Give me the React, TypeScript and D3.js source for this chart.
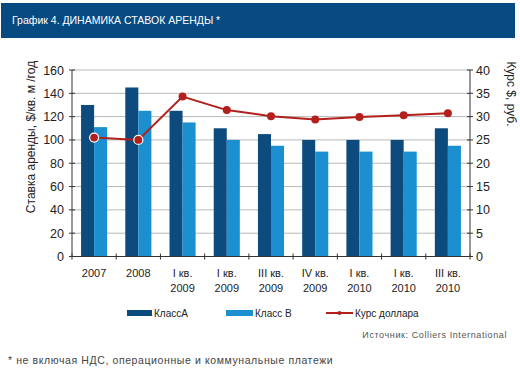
import React from "react";
import * as d3 from "d3";

const categories = [
  ["2007", ""],
  ["2008", ""],
  ["I кв.", "2009"],
  ["I кв.", "2009"],
  ["III кв.", "2009"],
  ["IV кв.", "2009"],
  ["I кв.", "2010"],
  ["I кв.", "2010"],
  ["III кв.", "2010"],
];
const classA = [130, 145, 125, 110, 105, 100, 100, 100, 110];
const classB = [111, 125, 115, 100, 95, 90, 90, 90, 95];
const dollar = [25.5, 25.0, 34.3, 31.4, 30.1, 29.4, 29.9, 30.3, 30.7];
const leftTicks = [0, 20, 40, 60, 80, 100, 120, 140, 160];
const rightTicks = [0, 5, 10, 15, 20, 25, 30, 35, 40];

const COL_A = "#0d4a7e";
const COL_B = "#1b8fcf";
const COL_L = "#b3201c";
const FONT = "Liberation Sans, Arial, sans-serif";

export default function App() {
  const left = 72, right = 470, top = 70, bottom = 256.5;
  const idx = categories.map((_, i) => String(i));
  const x = d3.scaleBand().domain(idx).range([left, right]).paddingInner(0.41).paddingOuter(0.205);
  const x1 = d3.scaleBand().domain(["A", "B"]).range([0, x.bandwidth()]);
  const yL = d3.scaleLinear().domain([0, 160]).range([bottom, top]);
  const yR = d3.scaleLinear().domain([0, 40]).range([bottom, top]);
  const step = (right - left) / categories.length;
  const cx = (i: number) => left + step * (i + 0.5);
  const line = d3.line<number>().x((_, i) => cx(i)).y((d) => yR(d));

  return (
    <svg width={520} height={378} style={{ position: "absolute", left: 0, top: 0, fontFamily: FONT }}>
      <rect x={0} y={0} width={520} height={378} fill="#fff" />
      <rect x={1} y={3} width={514} height={35} fill="#074a82" />
      <text x={12} y={24} fill="#fff" fontSize={10.5}>График 4. ДИНАМИКА СТАВОК АРЕНДЫ *</text>

      {leftTicks.map((t) => (
        <line key={"g" + t} x1={left} x2={right} y1={yL(t)} y2={yL(t)} stroke="#b8b8b8" strokeWidth={1} />
      ))}

      {classA.map((v, i) => (
        <rect key={"a" + i} x={x(String(i))! + x1("A")!} y={yL(v)} width={x1.bandwidth()} height={bottom - yL(v)} fill={COL_A} />
      ))}
      {classB.map((v, i) => (
        <rect key={"b" + i} x={x(String(i))! + x1("B")!} y={yL(v)} width={x1.bandwidth()} height={bottom - yL(v)} fill={COL_B} />
      ))}

      {/* axes */}
      <line x1={left} x2={left} y1={top} y2={bottom} stroke="#333" strokeWidth={1} />
      <line x1={right} x2={right} y1={top} y2={bottom} stroke="#333" strokeWidth={1} />
      <line x1={left} x2={right} y1={bottom} y2={bottom} stroke="#333" strokeWidth={1} />
      {leftTicks.map((t) => (
        <g key={"lt" + t}>
          <line x1={left - 3} x2={left + 3} y1={yL(t)} y2={yL(t)} stroke="#333" />
          <text x={64} y={yL(t) + 4.5} textAnchor="end" fontSize={12.5} fill="#222">{t}</text>
        </g>
      ))}
      {rightTicks.map((t) => (
        <g key={"rt" + t}>
          <line x1={right - 3} x2={right + 3} y1={yR(t)} y2={yR(t)} stroke="#333" />
          <text x={476} y={yR(t) + 4.5} textAnchor="start" fontSize={12.5} fill="#222">{t}</text>
        </g>
      ))}
      {d3.range(categories.length + 1).map((i) => (
        <line key={"xt" + i} x1={left + step * i} x2={left + step * i} y1={bottom - 3} y2={bottom + 3} stroke="#333" />
      ))}
      {categories.map((c, i) => (
        <g key={"xl" + i}>
          <text x={cx(i)} y={277} textAnchor="middle" fontSize={11} fill="#222">{c[0]}</text>
          {c[1] && <text x={cx(i)} y={292} textAnchor="middle" fontSize={11} fill="#222">{c[1]}</text>}
        </g>
      ))}

      <text transform={`translate(35,137) rotate(-90)`} textAnchor="middle" fontSize={12} fill="#222">Ставка аренды, $/кв. м /год</text>
      <text transform={`translate(507,94) rotate(90)`} textAnchor="middle" fontSize={12} fill="#222">Курс $, руб.</text>

      <path d={line(dollar) ?? ""} fill="none" stroke={COL_L} strokeWidth={2} />
      {dollar.map((v, i) => (
        <circle key={"m" + i} cx={cx(i)} cy={yR(v)} r={i < 2 ? 4.5 : 4} fill={COL_L} stroke={i < 2 ? "#fff" : "none"} strokeWidth={1.2} />
      ))}

      {/* legend */}
      <rect x={127} y={310} width={25} height={6} fill={COL_A} />
      <text x={154} y={317} fontSize={10} fill="#222">КлассА</text>
      <rect x={226} y={310} width={27} height={6} fill={COL_B} />
      <text x={255} y={317} fontSize={10} fill="#222">Класс В</text>
      <line x1={326} x2={353} y1={313} y2={313} stroke={COL_L} strokeWidth={2} />
      <circle cx={339.5} cy={313} r={2} fill={COL_L} />
      <text x={355} y={317} fontSize={10} fill="#222">Курс доллара</text>

      <text x={507} y={338} textAnchor="end" fontSize={9} letterSpacing={0.6} fill="#555">Источник: Colliers International</text>
      <text x={8} y={364} fontSize={10.5} letterSpacing={0.6} fill="#444">* не включая НДС, операционные и коммунальные платежи</text>
    </svg>
  );
}
